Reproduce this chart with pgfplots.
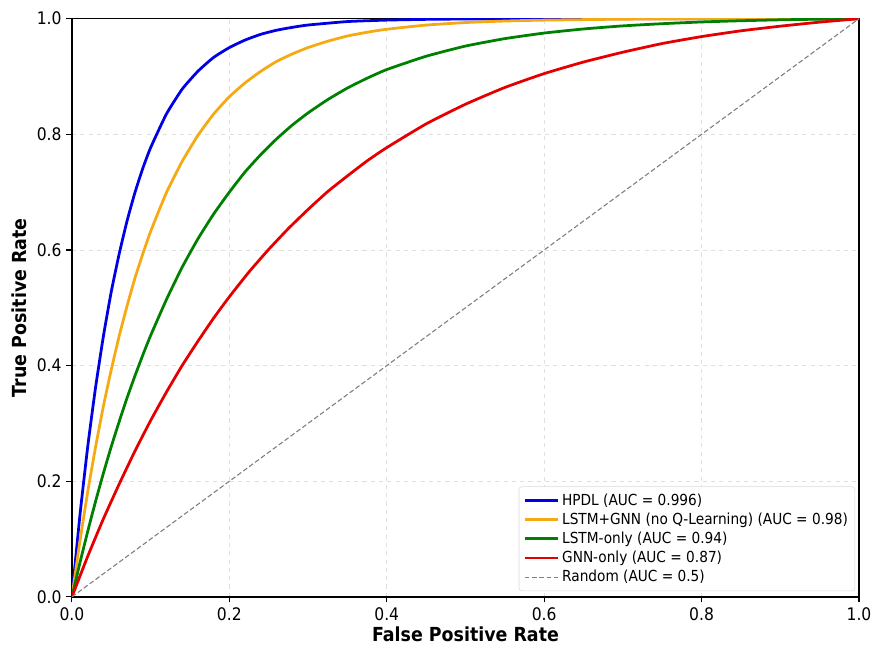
\documentclass[border=0pt]{standalone}
\usepackage{pgfplots}
\pgfplotsset{compat=1.18}
\usepackage{fontspec}
\setmainfont{DejaVu Sans}[FakeStretch=0.9]

\definecolor{cblue}{RGB}{0,0,230}
\definecolor{corange}{RGB}{245,170,20}
\definecolor{cgreen}{RGB}{0,128,0}
\definecolor{cred}{RGB}{228,0,0}

% values read off the reference ROC curves
\pgfplotstableread{
fpr tpr
0 0
0.01 0.139
0.02 0.259
0.03 0.362
0.04 0.451
0.05 0.528
0.06 0.593
0.07 0.650
0.08 0.699
0.09 0.741
0.10 0.777
0.12 0.835
0.14 0.878
0.16 0.909
0.18 0.933
0.20 0.950
0.22 0.963
0.24 0.973
0.26 0.980
0.28 0.985
0.30 0.989
0.35 0.995
0.40 0.9975
0.45 0.9988
0.50 0.9994
0.60 0.9999
0.70 1.0
1.0 1.0
}\hpdl

\pgfplotstableread{
fpr tpr
0 0
0.01 0.095
0.02 0.181
0.03 0.259
0.04 0.330
0.05 0.393
0.06 0.451
0.07 0.503
0.08 0.551
0.09 0.593
0.10 0.632
0.12 0.699
0.14 0.753
0.16 0.798
0.18 0.835
0.20 0.865
0.22 0.889
0.24 0.909
0.26 0.926
0.28 0.939
0.30 0.950
0.325 0.961
0.35 0.970
0.375 0.9765
0.40 0.9817
0.45 0.9889
0.50 0.9933
0.55 0.9959
0.60 0.9975
0.70 0.9991
0.80 0.9997
1.0 1.0
}\lstmgnn

\pgfplotstableread{
fpr tpr
0 0
0.01 0.058
0.02 0.113
0.03 0.165
0.04 0.214
0.05 0.260
0.06 0.303
0.07 0.344
0.08 0.382
0.09 0.418
0.10 0.452
0.12 0.514
0.14 0.570
0.16 0.619
0.18 0.662
0.20 0.700
0.22 0.735
0.24 0.765
0.26 0.792
0.28 0.816
0.30 0.837
0.325 0.860
0.35 0.880
0.375 0.897
0.40 0.912
0.45 0.935
0.50 0.9526
0.55 0.9655
0.60 0.9751
0.65 0.9822
0.70 0.9875
0.75 0.9913
0.80 0.9943
0.85 0.9964
0.90 0.998
0.95 0.9991
1.0 1.0
}\lstm

\pgfplotstableread{
fpr tpr
0 0
0.02 0.070
0.04 0.135
0.06 0.195
0.08 0.252
0.10 0.305
0.12 0.354
0.14 0.400
0.16 0.442
0.18 0.482
0.20 0.519
0.225 0.562
0.25 0.601
0.275 0.637
0.30 0.670
0.325 0.701
0.35 0.728
0.375 0.754
0.40 0.777
0.45 0.818
0.50 0.852
0.55 0.881
0.60 0.905
0.65 0.925
0.70 0.942
0.75 0.957
0.80 0.969
0.85 0.979
0.90 0.987
0.95 0.994
1.0 1.0
}\gnn

\begin{document}
\begin{tikzpicture}
\begin{axis}[
  scale only axis,
  width=569pt,
  height=418pt,
  xmin=0, xmax=1, ymin=0, ymax=1,
  xtick={0,0.2,...,1.0},
  ytick={0,0.2,...,1.0},
  xtick pos=bottom, ytick pos=left,
  tick align=outside,
  major tick length=4pt,
  tick style={black, line width=0.8pt},
  axis line style={black, line width=0.9pt},
  xticklabel style={/pgf/number format/.cd, fixed, fixed zerofill, precision=1},
  yticklabel style={/pgf/number format/.cd, fixed, fixed zerofill, precision=1},
  /pgf/number format/assume math mode=true,
  ticklabel style={font=\fontsize{12.5}{14}\selectfont},
  grid=major,
  grid style={dashed, gray!25, line width=0.5pt},
  xlabel={\textbf{False Positive Rate}},
  ylabel={\textbf{True Positive Rate}},
  label style={font=\fontsize{14}{16}\selectfont},
  xlabel style={yshift=2pt},
  legend style={at={(0.995,0.01)}, anchor=south east, draw=gray!30,
    rounded corners=2pt, font=\fontsize{11}{13}\selectfont,
    inner sep=3pt},
  legend cell align=left,
  legend image code/.code={\draw[#1] (0cm,0cm) -- (0.85cm,0cm);},
]
\addplot[cblue, line width=2pt, smooth, tension=0.3] table[x=fpr,y=tpr] {\hpdl};
\addplot[corange, line width=2pt, smooth, tension=0.3] table[x=fpr,y=tpr] {\lstmgnn};
\addplot[cgreen, line width=2pt, smooth, tension=0.3] table[x=fpr,y=tpr] {\lstm};
\addplot[cred, line width=2pt, smooth, tension=0.3] table[x=fpr,y=tpr] {\gnn};
\addplot[gray, line width=0.8pt, dash pattern=on 3.5pt off 1.8pt] coordinates {(0,0) (1,1)};
\legend{HPDL (AUC = 0.996), LSTM+GNN (no Q-Learning) (AUC = 0.98), LSTM-only (AUC = 0.94), GNN-only (AUC = 0.87), Random (AUC = 0.5)}
\end{axis}
\path ([yshift=13.5pt]current axis.north) ([xshift=-52pt]current axis.west);
\end{tikzpicture}
\end{document}
